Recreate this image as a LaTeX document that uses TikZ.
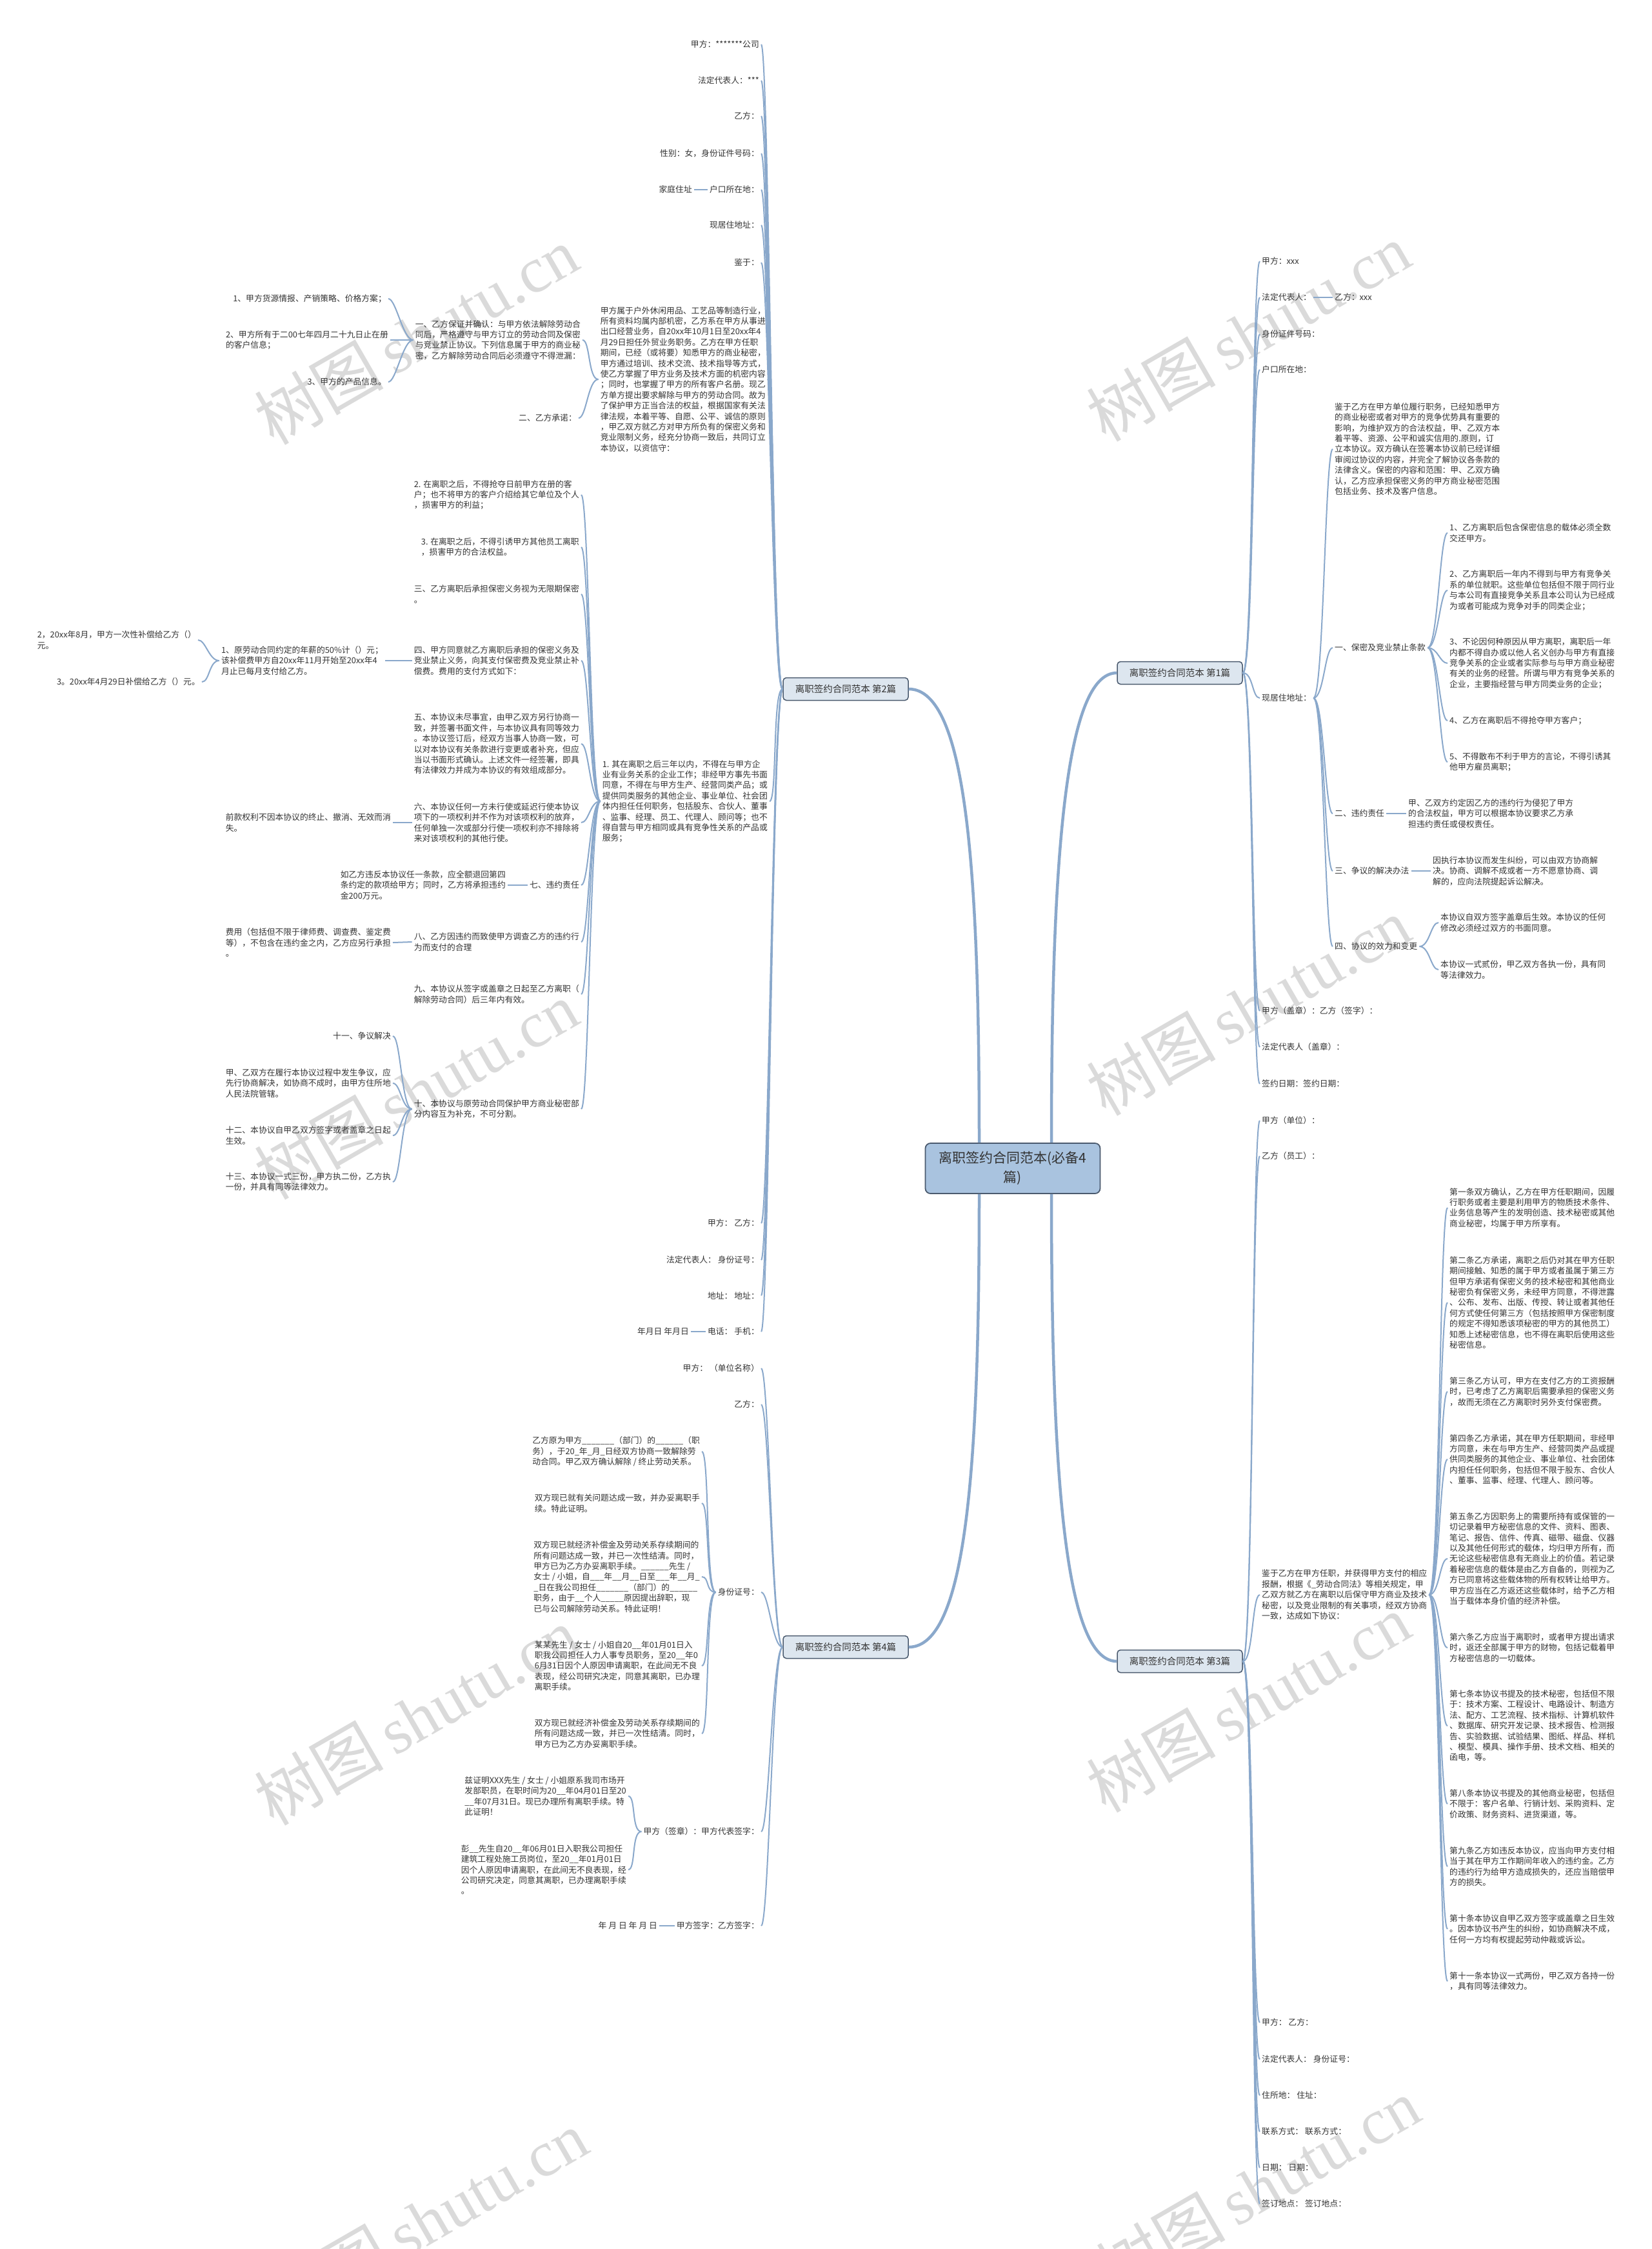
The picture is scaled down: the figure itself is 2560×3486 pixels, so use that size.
\documentclass[tikz,border=0pt]{standalone}
\usepackage{fontspec}
\setmainfont{Noto Sans CJK SC}
\newfontfamily\wmserif{Liberation Serif}
\usetikzlibrary{calc}
\definecolor{lnc}{HTML}{8AA8CB}
\definecolor{txt}{HTML}{333333}
\definecolor{cfill}{HTML}{A9C3DF}
\definecolor{cdraw}{HTML}{4A5A6E}
\definecolor{bfill}{HTML}{DDE6EF}
\definecolor{wmc}{HTML}{DADADA}
\tikzset{
 lk/.style={draw=lnc, line width=2pt},
 trunk/.style={draw=lnc, line width=4.5pt},
 lf/.style={font=\fontsize{12.8}{16.4}\selectfont, text=txt, inner sep=3pt, align=left},
 le/.style={lf, anchor=east},
 lw/.style={lf, anchor=west},
 br/.style={draw=cdraw, fill=bfill, rounded corners=5pt, line width=1.5pt, font=\fontsize{14.5}{17}\selectfont, text=txt, minimum height=35pt, minimum width=194pt, inner xsep=6pt},
 cn/.style={draw=cdraw, fill=cfill, rounded corners=8pt, line width=1.8pt, minimum width=271pt, minimum height=78pt, align=center, font=\fontsize{21}{30}\selectfont, text=txt},
 wmk/.style={text=wmc, font=\fontsize{100}{100}\selectfont, rotate=30, inner sep=0pt}
}
\newcommand\toL[2]{\draw[lk] (#1) .. controls ($(#1)+(-16,0)$) and ($(#2)+(12,0)$) .. (#2);}
\newcommand\toR[2]{\draw[lk] (#1) .. controls ($(#1)+(16,0)$) and ($(#2)+(-12,0)$) .. (#2);}
\begin{document}
\begin{tikzpicture}[x=1pt,y=-1pt]
\fill[white] (0,0) rectangle (2560,3486);
\useasboundingbox (0,0) rectangle (2560,3486);
% watermarks
\foreach \wx/\wy/\wn in {645/520/w1,1935/515/w2,645/1690/w3,1935/1560/w4,645/2660/w5,1935/2640/w6,660/3440/w7,1950/3390/w8}{
 \node[wmk] (\wn) at (\wx,\wy) {树图\,{\wmserif shutu.cn}};
}
% center and branches
\node[cn] (c) at (1570,1811) {离职签约合同范本(必备4\\篇)};
\node[br] (b2) at (1311,1068) {离职签约合同范本 第2篇};
\node[br] (b1) at (1829,1043) {离职签约合同范本 第1篇};
\node[br] (b3) at (1829,2575) {离职签约合同范本 第3篇};
\node[br] (b4) at (1311,2553) {离职签约合同范本 第4篇};
\draw[trunk] ($(c.north)+(-52,0)$) .. controls ($(c.north)+(-52,-420)$) and ($(b2.east)+(90,0)$) .. (b2.east);
\draw[trunk] ($(c.north)+(60,0)$) .. controls ($(c.north)+(60,-440)$) and ($(b1.west)+(-80,0)$) .. (b1.west);
\draw[trunk] ($(c.south)+(-52,0)$) .. controls ($(c.south)+(-52,420)$) and ($(b4.east)+(90,0)$) .. (b4.east);
\draw[trunk] ($(c.south)+(60,0)$) .. controls ($(c.south)+(60,440)$) and ($(b3.west)+(-80,0)$) .. (b3.west);

% ===== 第2篇 =====
\node[le] (a1) at (1180,69) {甲方：*******公司};
\node[le] (a2) at (1180,125) {法定代表人：***};
\node[le] (a3) at (1180,180) {乙方：};
\node[le] (a4) at (1180,238) {性别：女，身份证件号码：};
\node[le] (a5) at (1180,294) {户口所在地：};
\node[le] (a5a) at (1076,294) {家庭住址};
\node[le] (a6) at (1180,349) {现居住地址：};
\node[le] (a7) at (1180,407) {鉴于：};
\node[le] (a8) at (1190,588) {甲方属于户外休闲用品、工艺品等制造行业，\\所有资料均属内部机密，乙方系在甲方从事进\\出口经营业务，自20xx年10月1日至20xx年4\\月29日担任外贸业务职务。乙方在甲方任职\\期间，已经（或将要）知悉甲方的商业秘密，\\甲方通过培训、技术交流、技术指导等方式，\\使乙方掌握了甲方业务及技术方面的机密内容\\；同时，也掌握了甲方的所有客户名册。现乙\\方单方提出要求解除与甲方的劳动合同。故为\\了保护甲方正当合法的权益，根据国家有关法\\律法规，本着平等、自愿、公平、诚信的原则\\，甲乙双方就乙方对甲方所负有的保密义务和\\竞业限制义务，经充分协商一致后，共同订立\\本协议，以资信守：};
\node[le] (a8a) at (903,527) {一、乙方保证并确认：与甲方依法解除劳动合\\同后，严格遵守与甲方订立的劳动合同及保密\\与竞业禁止协议。下列信息属于甲方的商业秘\\密，乙方解除劳动合同后必须遵守不得泄漏：};
\node[le] (a8a1) at (602,463) {1、甲方货源情报、产销策略、价格方案；};
\node[le] (a8a2) at (605,527) {2、甲方所有于二00七年四月二十九日止在册\\的客户信息；};
\node[le] (a8a3) at (602,592) {3、甲方的产品信息。};
\node[le] (a8b) at (897,648) {二、乙方承诺：};
\node[le] (a9) at (1193,1242) {1. 其在离职之后三年以内，不得在与甲方企\\业有业务关系的企业工作；非经甲方事先书面\\同意，不得在与甲方生产、经营同类产品；或\\提供同类服务的其他企业、事业单位、社会团\\体内担任任何职务，包括股东、合伙人、董事\\、监事、经理、员工、代理人、顾问等；也不\\得自营与甲方相同或具有竞争性关系的产品或\\服务；};
\node[le] (m2) at (901,767) {2. 在离职之后，不得抢夺日前甲方在册的客\\户；也不将甲方的客户介绍给其它单位及个人\\，损害甲方的利益；};
\node[le] (m3) at (901,848) {3. 在离职之后，不得引诱甲方其他员工离职\\，损害甲方的合法权益。};
\node[le] (m3b) at (901,921) {三、乙方离职后承担保密义务视为无限期保密\\。};
\node[le] (m4) at (901,1024) {四、甲方同意就乙方离职后承担的保密义务及\\竞业禁止义务，向其支付保密费及竞业禁止补\\偿费。费用的支付方式如下：};
\node[le] (m4a) at (597,1024) {1、原劳动合同约定的年薪的50\%计（）元；\\该补偿费甲方自20xx年11月开始至20xx年4\\月止已每月支付给乙方。};
\node[le] (m4a1) at (307,992) {2，20xx年8月，甲方一次性补偿给乙方（）\\元。};
\node[le] (m4a2) at (313,1057) {3。20xx年4月29日补偿给乙方（）元。};
\node[le] (m5) at (901,1153) {五、本协议未尽事宜，由甲乙双方另行协商一\\致，并签署书面文件，与本协议具有同等效力\\。本协议签订后，经双方当事人协商一致，可\\以对本协议有关条款进行变更或者补充，但应\\当以书面形式确认。上述文件一经签署，即具\\有法律效力并成为本协议的有效组成部分。};
\node[le] (m6) at (901,1275) {六、本协议任何一方未行使或延迟行使本协议\\项下的一项权利并不作为对该项权利的放弃，\\任何单独一次或部分行使一项权利亦不排除将\\来对该项权利的其他行使。};
\node[le] (m6a) at (609,1275) {前款权利不因本协议的终止、撤消、无效而消\\失。};
\node[le] (m7) at (901,1372) {七、违约责任};
\node[le] (m7a) at (787,1372) {如乙方违反本协议任一条款，应全额退回第四\\条约定的款项给甲方；同时，乙方将承担违约\\金200万元。};
\node[le] (m8) at (901,1460) {八、乙方因违约而致使甲方调查乙方的违约行\\为而支付的合理};
\node[le] (m8a) at (609,1461) {费用（包括但不限于律师费、调查费、鉴定费\\等），不包含在违约金之内，乙方应另行承担\\。};
\node[le] (m9) at (901,1541) {九、本协议从签字或盖章之日起至乙方离职（\\解除劳动合同）后三年内有效。};
\node[le] (m10) at (901,1719) {十、本协议与原劳动合同保护甲方商业秘密部\\分内容互为补充，不可分割。};
\node[le] (m10a) at (609,1606) {十一、争议解决};
\node[le] (m10b) at (609,1679) {甲、乙双方在履行本协议过程中发生争议，应\\先行协商解决，如协商不成时，由甲方住所地\\人民法院管辖。};
\node[le] (m10c) at (609,1760) {十二、本协议自甲乙双方签字或者盖章之日起\\生效。};
\node[le] (m10d) at (609,1832) {十三、本协议一式三份，甲方执二份，乙方执\\一份，并具有同等法律效力。};
\node[le] (a10) at (1180,1896) {甲方：\ 乙方：};
\node[le] (a11) at (1180,1953) {法定代表人：\ 身份证号：};
\node[le] (a12) at (1180,2008) {地址：\ 地址：};
\node[le] (a13) at (1180,2064) {电话：\ 手机：};
\node[le] (a13a) at (1071,2064) {年月日 年月日};

\foreach \n in {a1,a2,a3,a4,a5,a6,a7,a8,a9,a10,a11,a12,a13}{\toL{b2.west}{\n.east}}
\draw[lk] (a5.west) -- (a5a.east);
\draw[lk] (a13.west) -- (a13a.east);
\foreach \n in {a8a,a8b}{\toL{a8.west}{\n.east}}
\foreach \n in {a8a1,a8a2,a8a3}{\toL{a8a.west}{\n.east}}
\foreach \n in {m2,m3,m3b,m4,m5,m6,m7,m8,m9,m10}{\toL{a9.west}{\n.east}}
\draw[lk] (m4.west) -- (m4a.east);
\foreach \n in {m4a1,m4a2}{\toL{m4a.west}{\n.east}}
\draw[lk] (m6.west) -- (m6a.east);
\draw[lk] (m7.west) -- (m7a.east);
\draw[lk] (m8.west) -- (m8a.east);
\foreach \n in {m10a,m10b,m10c,m10d}{\toL{m10.west}{\n.east}}

% ===== 第4篇 =====
\node[le] (d1) at (1180,2121) {甲方：\ （单位名称）};
\node[le] (d2) at (1180,2177) {乙方：};
\node[le] (d3) at (1180,2468) {身份证号：};
\node[le] (d3a) at (1088,2250) {乙方原为甲方\_\_\_\_\_\_\_（部门）的\_\_\_\_\_\_（职\\务），于20\_年\_月\_日经双方协商一致解除劳\\动合同。甲乙双方确认解除 / 终止劳动关系。};
\node[le] (d3b) at (1088,2330) {双方现已就有关问题达成一致，并办妥离职手\\续。特此证明。};
\node[le] (d3c) at (1088,2444) {双方现已就经济补偿金及劳动关系存续期间的\\所有问题达成一致，并已一次性结清。同时，\\甲方已为乙方办妥离职手续。\_\_\_\_\_\_先生 /\\女士 / 小姐，自\_\_\_年\_\_月\_\_日至\_\_\_年\_\_月\_\\\_日在我公司担任\_\_\_\_\_\_\_（部门）的\_\_\_\_\_\_\\职务，由于\_\_个人\_\_\_\_\_原因提出辞职，现\\已与公司解除劳动关系。特此证明！};
\node[le] (d3d) at (1088,2582) {某某先生 / 女士 / 小姐自20\_\_年01月01日入\\职我公司担任人力人事专员职务，至20\_\_年0\\6月31日因个人原因申请离职，在此间无不良\\表现，经公司研究决定，同意其离职，已办理\\离职手续。};
\node[le] (d3e) at (1088,2687) {双方现已就经济补偿金及劳动关系存续期间的\\所有问题达成一致，并已一次性结清。同时，\\甲方已为乙方办妥离职手续。};
\node[le] (d4) at (1180,2839) {甲方（签章）：甲方代表签字：};
\node[le] (d4a) at (974,2784) {兹证明XXX先生 / 女士 / 小姐原系我司市场开\\发部职员，在职时间为20\_\_年04月01日至20\\\_\_年07月31日。现已办理所有离职手续。特\\此证明！};
\node[le] (d4b) at (974,2898) {彭\_\_先生自20\_\_年06月01日入职我公司担任\\建筑工程处施工员岗位，至20\_\_年01月01日\\因个人原因申请离职，在此间无不良表现，经\\公司研究决定，同意其离职，已办理离职手续\\。};
\node[le] (d5) at (1180,2985) {甲方签字：乙方签字：};
\node[le] (d5a) at (1022,2985) {年 月 日 年 月 日};
\foreach \n in {d1,d2,d3,d4,d5}{\toL{b4.west}{\n.east}}
\foreach \n in {d3a,d3b,d3c,d3d,d3e}{\toL{d3.west}{\n.east}}
\foreach \n in {d4a,d4b}{\toL{d4.west}{\n.east}}
\draw[lk] (d5.west) -- (d5a.east);

% ===== 第1篇 =====
\node[lw] (e1) at (1953,405) {甲方：xxx};
\node[lw] (e2) at (1953,461) {法定代表人：};
\node[lw] (e2a) at (2066,461) {乙方：xxx};
\node[lw] (e3) at (1953,518) {身份证件号码：};
\node[lw] (e4) at (1953,573) {户口所在地：};
\node[lw] (e5) at (1953,1082) {现居住地址：};
\node[lw] (e5a) at (2066,696) {鉴于乙方在甲方单位履行职务，已经知悉甲方\\的商业秘密或者对甲方的竞争优势具有重要的\\影响，为维护双方的合法权益，甲、乙双方本\\着平等、资源、公平和诚实信用的.原则，订\\立本协议。双方确认在签署本协议前已经详细\\审阅过协议的内容，并完全了解协议各条款的\\法律含义。保密的内容和范围：甲、乙双方确\\认，乙方应承担保密义务的甲方商业秘密范围\\包括业务、技术及客户信息。};
\node[lw] (e5b) at (2066,1004) {一、保密及竞业禁止条款};
\node[lw] (e5b1) at (2244,826) {1、乙方离职后包含保密信息的载体必须全数\\交还甲方。};
\node[lw] (e5b2) at (2244,915) {2、乙方离职后一年内不得到与甲方有竞争关\\系的单位就职。这些单位包括但不限于同行业\\与本公司有直接竞争关系且本公司认为已经成\\为或者可能成为竞争对手的同类企业；};
\node[lw] (e5b3) at (2244,1028) {3、不论因何种原因从甲方离职，离职后一年\\内都不得自办或以他人名义创办与甲方有直接\\竞争关系的企业或者实际参与与甲方商业秘密\\有关的业务的经营。所谓与甲方有竞争关系的\\企业，主要指经营与甲方同类业务的企业；};
\node[lw] (e5b4) at (2244,1117) {4、乙方在离职后不得抢夺甲方客户；};
\node[lw] (e5b5) at (2244,1181) {5、不得散布不利于甲方的言论，不得引诱其\\他甲方雇员离职；};
\node[lw] (e5c) at (2066,1261) {二、违约责任};
\node[lw] (e5c1) at (2180,1261) {甲、乙双方约定因乙方的违约行为侵犯了甲方\\的合法权益，甲方可以根据本协议要求乙方承\\担违约责任或侵权责任。};
\node[lw] (e5d) at (2066,1350) {三、争议的解决办法};
\node[lw] (e5d1) at (2218,1350) {因执行本协议而发生纠纷，可以由双方协商解\\决。协商、调解不成或者一方不愿意协商、调\\解的，应向法院提起诉讼解决。};
\node[lw] (e5e) at (2066,1467) {四、协议的效力和变更};
\node[lw] (e5e1) at (2230,1430) {本协议自双方签字盖章后生效。本协议的任何\\修改必须经过双方的书面同意。};
\node[lw] (e5e2) at (2230,1503) {本协议一式贰份，甲乙双方各执一份，具有同\\等法律效力。};
\node[lw] (e6) at (1953,1567) {甲方（盖章）：乙方（签字）：};
\node[lw] (e7) at (1953,1623) {法定代表人（盖章）：};
\node[lw] (e8) at (1953,1680) {签约日期：签约日期：};
\foreach \n in {e1,e2,e3,e4,e5,e6,e7,e8}{\toR{b1.east}{\n.west}}
\draw[lk] (e2.east) -- (e2a.west);
\foreach \n in {e5a,e5b,e5c,e5d,e5e}{\toR{e5.east}{\n.west}}
\foreach \n in {e5b1,e5b2,e5b3,e5b4,e5b5}{\toR{e5b.east}{\n.west}}
\draw[lk] (e5c.east) -- (e5c1.west);
\draw[lk] (e5d.east) -- (e5d1.west);
\foreach \n in {e5e1,e5e2}{\toR{e5e.east}{\n.west}}

% ===== 第3篇 =====
\node[lw] (f1) at (1953,1737) {甲方（单位）：};
\node[lw] (f2) at (1953,1792) {乙方（员工）：};
\node[lw] (f3) at (1953,2472) {鉴于乙方在甲方任职，并获得甲方支付的相应\\报酬，根据《\_劳动合同法》等相关规定，甲\\乙双方就乙方在离职以后保守甲方商业及技术\\秘密，以及竞业限制的有关事项，经双方协商\\一致，达成如下协议：};
\node[lw] (g1) at (2244,1872) {第一条双方确认，乙方在甲方任职期间，因履\\行职务或者主要是利用甲方的物质技术条件、\\业务信息等产生的发明创造、技术秘密或其他\\商业秘密，均属于甲方所享有。};
\node[lw] (g2) at (2244,2019) {第二条乙方承诺，离职之后仍对其在甲方任职\\期间接触、知悉的属于甲方或者虽属于第三方\\但甲方承诺有保密义务的技术秘密和其他商业\\秘密负有保密义务，未经甲方同意，不得泄露\\、公布、发布、出版、传授、转让或者其他任\\何方式使任何第三方（包括按照甲方保密制度\\的规定不得知悉该项秘密的甲方的其他员工）\\知悉上述秘密信息，也不得在离职后使用这些\\秘密信息。};
\node[lw] (g3) at (2244,2157) {第三条乙方认可，甲方在支付乙方的工资报酬\\时，已考虑了乙方离职后需要承担的保密义务\\，故而无须在乙方离职时另外支付保密费。};
\node[lw] (g4) at (2244,2262) {第四条乙方承诺，其在甲方任职期间，非经甲\\方同意，未在与甲方生产、经营同类产品或提\\供同类服务的其他企业、事业单位、社会团体\\内担任任何职务，包括但不限于股东、合伙人\\、董事、监事、经理、代理人、顾问等。};
\node[lw] (g5) at (2244,2416) {第五条乙方因职务上的需要所持有或保管的一\\切记录着甲方秘密信息的文件、资料、图表、\\笔记、报告、信件、传真、磁带、磁盘、仪器\\以及其他任何形式的载体，均归甲方所有，而\\无论这些秘密信息有无商业上的价值。若记录\\着秘密信息的载体是由乙方自备的，则视为乙\\方已同意将这些载体物的所有权转让给甲方。\\甲方应当在乙方返还这些载体时，给予乙方相\\当于载体本身价值的经济补偿。};
\node[lw] (g6) at (2244,2554) {第六条乙方应当于离职时，或者甲方提出请求\\时，返还全部属于甲方的财物，包括记载着甲\\方秘密信息的一切载体。};
\node[lw] (g7) at (2244,2675) {第七条本协议书提及的技术秘密，包括但不限\\于：技术方案、工程设计、电路设计、制造方\\法、配方、工艺流程、技术指标、计算机软件\\、数据库、研究开发记录、技术报告、检测报\\告、实验数据、试验结果、图纸、样品、样机\\、模型、模具、操作手册、技术文档、相关的\\函电，等。};
\node[lw] (g8) at (2244,2796) {第八条本协议书提及的其他商业秘密，包括但\\不限于：客户名单、行销计划、采购资料、定\\价政策、财务资料、进货渠道，等。};
\node[lw] (g9) at (2244,2893) {第九条乙方如违反本协议，应当向甲方支付相\\当于其在甲方工作期间年收入的违约金。乙方\\的违约行为给甲方造成损失的，还应当赔偿甲\\方的损失。};
\node[lw] (g10) at (2244,2990) {第十条本协议自甲乙双方签字或盖章之日生效\\。因本协议书产生的纠纷，如协商解决不成，\\任何一方均有权提起劳动仲裁或诉讼。};
\node[lw] (g11) at (2244,3071) {第十一条本协议一式两份，甲乙双方各持一份\\，具有同等法律效力。};
\node[lw] (f4) at (1953,3135) {甲方：\ 乙方：};
\node[lw] (f5) at (1953,3192) {法定代表人：\ 身份证号：};
\node[lw] (f6) at (1953,3248) {住所地：\ 住址：};
\node[lw] (f7) at (1953,3304) {联系方式：\ 联系方式：};
\node[lw] (f8) at (1953,3360) {日期：\ 日期：};
\node[lw] (f9) at (1953,3416) {签订地点：\ 签订地点：};
\foreach \n in {f1,f2,f3,f4,f5,f6,f7,f8,f9}{\toR{b3.east}{\n.west}}
\foreach \n in {g1,g2,g3,g4,g5,g6,g7,g8,g9,g10,g11}{\toR{f3.east}{\n.west}}
\end{tikzpicture}
\end{document}
